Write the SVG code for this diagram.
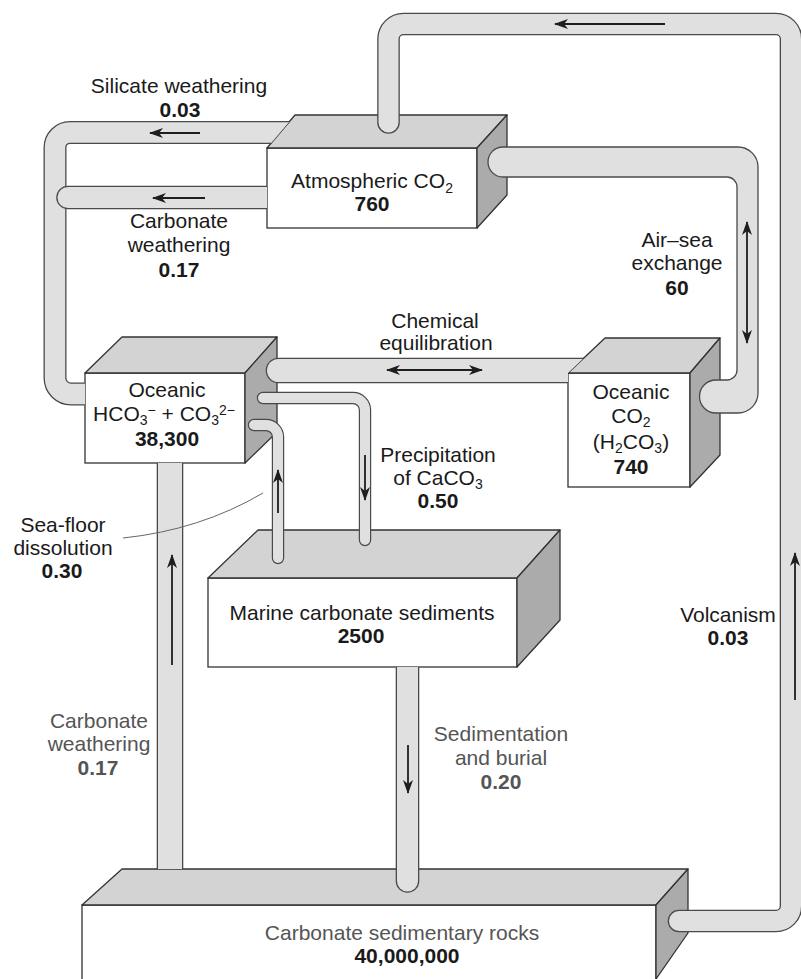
<svg xmlns="http://www.w3.org/2000/svg" width="801" height="979" viewBox="0 0 801 979">
<style>
.front{fill:#fff;stroke:#333;stroke-width:1.3}
.top{fill:#d3d3d3;stroke:#333;stroke-width:1.3;stroke-linejoin:round}
.side{fill:#ababab;stroke:#333;stroke-width:1.3;stroke-linejoin:round}
.po{fill:none;stroke:#4a4a4a;stroke-linejoin:round}
.pi{fill:none;stroke:#e0e0e0;stroke-linejoin:round}
.pshape{fill:#e0e0e0;stroke:#4a4a4a;stroke-width:1.3}
.arr{fill:none;stroke:#1e1e1e;stroke-width:1.8}
.t{font-family:"Liberation Sans",Arial,Helvetica,sans-serif;font-size:21px;fill:#1a1a1a;text-anchor:middle}
.b{font-weight:bold}
.g{fill:#555}
.sub{font-size:14px}
</style>
<defs>
<marker id="ah" viewBox="0 0 14 10" markerWidth="14" markerHeight="10" markerUnits="userSpaceOnUse" refX="13" refY="5" orient="auto-start-reverse">
<path d="M0,0 L14,5 L0,10 L4,5 Z" fill="#1e1e1e"/>
</marker>
<clipPath id="c-p1"><path clip-rule="evenodd" d="M0,0H801V979H0Z M267,148 L295,115 L507,115 L507,195 L477,228 L267,228Z M85,373 L122,337 L277,337 L277,432 L245,463 L85,463Z"/></clipPath>
<clipPath id="c-atm"><path clip-rule="evenodd" d="M0,0H801V979H0Z M267,148 L295,115 L507,115 L507,195 L477,228 L267,228Z"/></clipPath>
<clipPath id="c-cw"><path clip-rule="evenodd" d="M0,0H801V979H0Z M85,373 L122,337 L277,337 L277,432 L245,463 L85,463Z M82,905 L122,869 L688,869 L688,933 L656,979 L82,979Z"/></clipPath>
<clipPath id="c-ocean"><path clip-rule="evenodd" d="M0,0H801V979H0Z M568,373 L605,338 L720,338 L720,455 L690,487 L568,487Z"/></clipPath>
<clipPath id="c-marine"><path clip-rule="evenodd" d="M0,0H801V979H0Z M208,578 L258,530 L560,530 L560,620 L517,667 L208,667Z"/></clipPath>
</defs>

<g id="atmospheric-co2">
<rect class="front" x="267" y="148" width="210" height="80"/>
<polygon class="top" points="267,148 295,115 507,115 477,148"/>
<polygon class="side" points="477,148 507,115 507,195 477,228"/>
<text class="t" x="372" y="188">Atmospheric CO<tspan class="sub" dy="5">2</tspan></text>
<text class="t b" x="372" y="211">760</text>
</g>

<g id="oceanic-hco3">
<rect class="front" x="85" y="373" width="160" height="90"/>
<polygon class="top" points="85,373 122,337 277,337 245,373"/>
<polygon class="side" points="245,373 277,337 277,432 245,463"/>
<text class="t" x="167" y="397">Oceanic</text>
<text class="t" x="164" y="421">HCO<tspan class="sub" dy="4">3</tspan><tspan class="sub" dy="-10">−</tspan><tspan dy="6"> + CO</tspan><tspan class="sub" dy="4">3</tspan><tspan class="sub" dy="-10">2−</tspan></text>
<text class="t b" x="167" y="446">38,300</text>
</g>

<g id="oceanic-co2">
<rect class="front" x="568" y="373" width="122" height="114"/>
<polygon class="top" points="568,373 605,338 720,338 690,373"/>
<polygon class="side" points="690,373 720,338 720,455 690,487"/>
<text class="t" x="631" y="399">Oceanic</text>
<text class="t" x="631" y="423">CO<tspan class="sub" dy="4">2</tspan></text>
<text class="t" x="631" y="449">(H<tspan class="sub" dy="4">2</tspan><tspan dy="-4">CO</tspan><tspan class="sub" dy="4">3</tspan><tspan dy="-4">)</tspan></text>
<text class="t b" x="631" y="474">740</text>
</g>

<g id="marine-sediments">
<rect class="front" x="208" y="578" width="309" height="89"/>
<polygon class="top" points="208,578 258,530 560,530 517,578"/>
<polygon class="side" points="517,578 560,530 560,620 517,667"/>
<text class="t" x="362" y="620">Marine carbonate sediments</text>
<text class="t b" x="361" y="643">2500</text>
</g>

<g id="carbonate-rocks">
<rect class="front" x="82" y="905" width="574" height="80"/>
<polygon class="top" points="82,905 122,869 688,869 656,905"/>
<polygon class="side" points="656,905 688,869 688,933 656,979"/>
<text class="t g" x="402" y="940">Carbonate sedimentary rocks</text>
<text class="t b" x="407" y="963" fill="#3a3a3a">40,000,000</text>
</g>

<g id="connectors">
<g clip-path="url(#c-p1)">
<path class="po" stroke-width="23" d="M300,132.5 L70,132.5 A15,15 0 0 0 55,147.5 L55,378 A16,16 0 0 0 71,394 L110,394"/>
<path class="pi" stroke-width="20.4" d="M300,132.5 L70,132.5 A15,15 0 0 0 55,147.5 L55,378 A16,16 0 0 0 71,394 L110,394"/>
</g>
<g clip-path="url(#c-atm)">
<path class="po" stroke-width="23.6" stroke-linecap="round" d="M68,197.5 L300,197.5"/>
<path class="pi" stroke-width="21" stroke-linecap="round" d="M68,197.5 L300,197.5"/>
</g>
<g clip-path="url(#c-cw)">
<path class="po" stroke-width="26.6" d="M170,455 L170,880"/>
<path class="pi" stroke-width="24" d="M170,455 L170,880"/>
</g>
<g clip-path="url(#c-marine)">
<path class="po" stroke-width="23.6" stroke-linecap="round" d="M407.5,655 L407.5,881"/>
<path class="pi" stroke-width="21" stroke-linecap="round" d="M407.5,655 L407.5,881"/>
</g>
<g clip-path="url(#c-ocean)">
<path class="po" stroke-width="25.6" stroke-linecap="round" d="M278.5,370.5 L600,370.5"/>
<path class="pi" stroke-width="23" stroke-linecap="round" d="M278.5,370.5 L600,370.5"/>
</g>
<path class="po" stroke-width="12.4" stroke-linecap="round" d="M263,398 L353,398 A12,12 0 0 1 365,410 L365,540"/>
<path class="pi" stroke-width="10" stroke-linecap="round" d="M263,398 L353,398 A12,12 0 0 1 365,410 L365,540"/>
<path class="po" stroke-width="12.4" stroke-linecap="round" d="M254,425 L266,425 A12,12 0 0 1 278,437 L278,558"/>
<path class="pi" stroke-width="10" stroke-linecap="round" d="M254,425 L266,425 A12,12 0 0 1 278,437 L278,558"/>
<path class="po" stroke-width="22.6" stroke-linecap="round" d="M388.5,122.5 L388.5,39 A15,15 0 0 1 403.5,24 L776,24 A15,15 0 0 1 791,39 L791,906 A15,15 0 0 1 776,921 L679,921"/>
<path class="pi" stroke-width="20" stroke-linecap="round" d="M388.5,122.5 L388.5,39 A15,15 0 0 1 403.5,24 L776,24 A15,15 0 0 1 791,39 L791,906 A15,15 0 0 1 776,921 L679,921"/>
<path class="pshape" d="M503,147 L738,147 A20,20 0 0 1 758,167 L758,393 A20,20 0 0 1 738,413 L716,413 A16.5,16.5 0 0 1 716,380 L727,380 A10,10 0 0 0 737,370 L737,187 A10,10 0 0 0 727,177 L503,177 A15,15 0 0 1 503,147 Z"/>
<line class="arr" x1="200" y1="133" x2="150" y2="133" marker-end="url(#ah)"/>
<line class="arr" x1="205" y1="198" x2="153" y2="198" marker-end="url(#ah)"/>
<line class="arr" x1="665" y1="24" x2="555" y2="24" marker-end="url(#ah)"/>
<line class="arr" x1="747" y1="343" x2="747" y2="222" marker-start="url(#ah)" marker-end="url(#ah)"/>
<line class="arr" x1="387" y1="370" x2="482" y2="370" marker-start="url(#ah)" marker-end="url(#ah)"/>
<line class="arr" x1="365" y1="455" x2="365" y2="500" marker-end="url(#ah)"/>
<line class="arr" x1="278" y1="513" x2="278" y2="470" marker-end="url(#ah)"/>
<line class="arr" x1="172" y1="665" x2="172" y2="555" marker-end="url(#ah)"/>
<line class="arr" x1="408" y1="745" x2="408" y2="793" marker-end="url(#ah)"/>
<line class="arr" x1="795" y1="700" x2="795" y2="553" marker-end="url(#ah)"/>
<path d="M123,538 Q200,530 263,493" fill="none" stroke="#666" stroke-width="1"/>
</g>

<g id="labels">
<text class="t" x="179" y="93">Silicate weathering</text>
<text class="t b" x="180" y="117">0.03</text>
<text class="t" x="179" y="228">Carbonate</text>
<text class="t" x="179" y="252">weathering</text>
<text class="t b" x="179" y="277">0.17</text>
<text class="t" x="677" y="247">Air–sea</text>
<text class="t" x="677" y="270">exchange</text>
<text class="t b" x="677" y="295">60</text>
<text class="t" x="435" y="328">Chemical</text>
<text class="t" x="436" y="350">equilibration</text>
<text class="t" x="438" y="462">Precipitation</text>
<text class="t" x="438" y="485">of CaCO<tspan class="sub" dy="4">3</tspan></text>
<text class="t b" x="438" y="508">0.50</text>
<text class="t" x="63" y="532">Sea-floor</text>
<text class="t" x="63" y="555">dissolution</text>
<text class="t b" x="62" y="578">0.30</text>
<text class="t" x="728" y="622">Volcanism</text>
<text class="t b" x="728" y="645">0.03</text>
<text class="t g" x="99" y="728">Carbonate</text>
<text class="t g" x="99" y="751">weathering</text>
<text class="t b g" x="98" y="775">0.17</text>
<text class="t g" x="501" y="741">Sedimentation</text>
<text class="t g" x="501" y="765">and burial</text>
<text class="t b g" x="501" y="789">0.20</text>
</g>
</svg>
